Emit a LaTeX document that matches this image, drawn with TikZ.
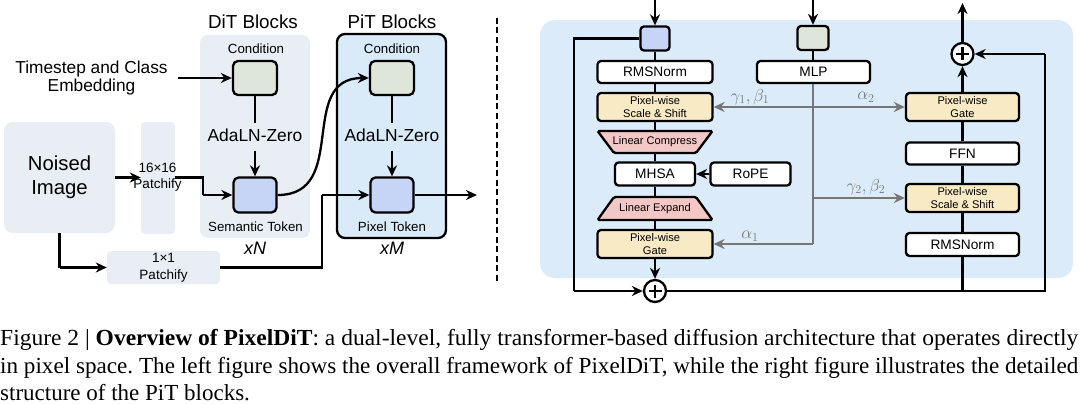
\documentclass[tikz,border=0pt]{standalone}
\usepackage{graphicx}
\usepackage{fontspec}
\setsansfont{Liberation Sans}
\newfontfamily\capfont{Liberation Serif}
\usetikzlibrary{arrows.meta,shapes.geometric}
\definecolor{bgL}{HTML}{E9EEF4}
\definecolor{pitbg}{HTML}{D9EAF8}
\definecolor{panelbg}{HTML}{DCEBF9}
\definecolor{condg}{HTML}{DEE6DA}
\definecolor{tokb}{HTML}{C6D5F5}
\definecolor{ylw}{HTML}{F8EAC4}
\definecolor{pnk}{HTML}{F3C7C5}
\definecolor{gln}{HTML}{767676}
\newcommand\fsz[2]{\fontsize{#1}{#2}\selectfont}
\frenchspacing
\begin{document}
\begin{tikzpicture}[x=1pt,y=-1pt,
  every node/.style={font=\sffamily, inner sep=0pt},
  conn/.style={line width=2.3pt},
  arr/.style={line width=2.3pt,-{Stealth[length=11pt,width=10pt]}},
  garr/.style={line width=2.3pt,draw=gln,-{Stealth[length=11pt,width=10pt]}},
  gln/.style={line width=2.3pt,draw=gln},
  sq/.style={draw,line width=2.3pt,rounded corners=5pt},
  blk/.style={draw,line width=2.3pt,rounded corners=3.5pt,fill=white,font=\sffamily\fsz{13.7}{16}},
  ylwbox/.style={draw,line width=2.3pt,rounded corners=3.5pt,fill=ylw,align=center,font=\sffamily\fsz{11.1}{13}},
  trapshape/.style={fill=pnk,draw,line width=2.3pt,rounded corners=1.5pt},
  traptext/.style={font=\sffamily\fsz{11.1}{13}},
  lbl/.style={font=\sffamily\fsz{13.3}{15}},
  gk/.style={text=gln,font=\fsz{17}{19}}
]
\useasboundingbox (0,0) rectangle (1080,404);

% ---------------- left part ----------------
\node[fill=bgL,rounded corners=8pt,minimum width=110pt,minimum height=203pt] (ditbg) at (255,136.5) {};
\node[draw,line width=2.3pt,fill=pitbg,rounded corners=8pt,minimum width=109pt,minimum height=204pt] (pitbg) at (391.5,136) {};
\node[font=\sffamily\fsz{18.8}{22}] (dittitle) at (253,22) {DiT Blocks};
\node[font=\sffamily\fsz{18.8}{22}] (pittitle) at (392,22) {PiT Blocks};

\node[fill=bgL,rounded corners=9pt,minimum width=111pt,minimum height=111pt,align=center,font=\sffamily\fsz{20.3}{24}] (noised) at (59.5,177.5) {Noised\\Image};
\node[fill=bgL,rounded corners=4pt,minimum width=34pt,minimum height=112pt] (p16) at (158,178) {};
\node[align=center,font=\sffamily\fsz{13.5}{16}] (p16t) at (157.5,177.5) {16\texttimes16\\Patchify};
\node[fill=bgL,rounded corners=4pt,minimum width=113pt,minimum height=33pt,align=center,font=\sffamily\fsz{13.5}{17}] (p1) at (163.5,267.5) {1\texttimes1\\Patchify};

\node[align=center,font=\sffamily\fsz{17.3}{18.5},inner xsep=10pt] (ts) at (91.5,78) {Timestep and Class\\Embedding};

\node[lbl] (cond1t) at (256,49) {Condition};
\node[sq,fill=condg,minimum width=44pt,minimum height=34pt] (cond1) at (255,78) {};
\node[font=\sffamily\fsz{17.4}{20},text height=12pt,text depth=4pt,inner ysep=5.5pt] (ada1) at (255,137) {AdaLN-Zero};
\node[sq,fill=tokb,minimum width=43pt,minimum height=35pt] (tok1) at (255,195) {};
\node[lbl] (tok1t) at (255.5,226.5) {Semantic Token};
\node[font=\sffamily\itshape\fsz{18}{20}] (xn) at (255,248) {xN};

\node[lbl] (cond2t) at (392,49) {Condition};
\node[sq,fill=condg,minimum width=44pt,minimum height=34pt] (cond2) at (392,78) {};
\node[font=\sffamily\fsz{17.4}{20},text height=12pt,text depth=4pt,inner ysep=5.5pt] (ada2) at (392,137) {AdaLN-Zero};
\node[sq,fill=tokb,minimum width=43pt,minimum height=35pt] (tok2) at (392,195) {};
\node[lbl] (tok2t) at (392,226.5) {Pixel Token};
\node[font=\sffamily\itshape\fsz{18}{20}] (xm) at (392,248) {xM};

\coordinate (out1) at (477,195);

\draw[arr] (ts.east) -- (ts.east -| cond1.west);
\draw[conn] (cond1.south) -- (ada1.north);
\draw[arr] (ada1.south) -- (tok1.north);
\draw[conn] (cond2.south) -- (ada2.north);
\draw[arr] (ada2.south) -- (tok2.north);
\draw[arr] (noised.east) -- (noised.east -| p16.west);
\draw[conn] (p16.east |- noised.east) -- (203,177.5) -- (203,195);
\draw[arr] (203,195) -- (tok1.west);
\draw[conn] (noised.south) -- (59.5,267.5);
\draw[arr] (59.5,267.5) -- (p1.west);
\draw[conn] (p1.east) -- (322,267.5) -- (322,195);
\draw[arr] (322,195) -- (tok2.west);
\draw[arr] (tok1.east) to[out=0,in=180,looseness=1.25] (cond2.west);
\draw[arr] (tok2.east) -- (out1);

% dashed separator
\draw[line width=2.3pt,dash pattern=on 6pt off 3.5pt] (497,18) -- (497,281);

% ---------------- right part ----------------
\node[fill=panelbg,rounded corners=15pt,minimum width=533pt,minimum height=258pt] (panel) at (806.5,149) {};

\node[sq,fill=tokb,minimum width=29pt,minimum height=24pt,rounded corners=3.5pt] (tokr) at (655,38.5) {};
\node[blk,minimum width=115pt,minimum height=22pt] (rms1) at (655,72) {RMSNorm};
\node[ylwbox,minimum width=115pt,minimum height=28pt] (ss1) at (655,107) {Pixel-wise\\Scale \& Shift};
\path[trapshape] (597.5,131) -- (712.5,131) -- (696,153) -- (614,153) -- cycle;
\node[traptext,minimum width=115pt,minimum height=22pt] (lc) at (655,142) {Linear Compress};
\node[blk,minimum width=80pt,minimum height=23pt] (mhsa) at (655,174) {MHSA};
\node[blk,minimum width=80pt,minimum height=23pt] (rope) at (750.5,174) {RoPE};
\path[trapshape] (614,197) -- (696,197) -- (712.5,220) -- (597.5,220) -- cycle;
\node[traptext,minimum width=115pt,minimum height=23pt] (le) at (655,208.5) {Linear Expand};
\node[ylwbox,minimum width=115pt,minimum height=28pt] (gate1) at (655,244) {Pixel-wise\\Gate};
\node[circle,draw,line width=2.3pt,fill=white,minimum size=22pt] (plus1) at (655,291) {};
\draw[line width=2.3pt] ([yshift=-6.5pt]plus1.center) -- ([yshift=6.5pt]plus1.center) ([xshift=-6.5pt]plus1.center) -- ([xshift=6.5pt]plus1.center);

\node[sq,fill=condg,minimum width=31pt,minimum height=24pt,rounded corners=3.5pt] (mlps) at (813,38) {};
\node[blk,minimum width=113pt,minimum height=22pt] (mlp) at (813.5,72) {MLP};

\node[ylwbox,minimum width=113pt,minimum height=28pt] (gate2) at (962.5,107) {Pixel-wise\\Gate};
\node[blk,minimum width=113pt,minimum height=22pt] (ffn) at (962.5,153.5) {FFN};
\node[ylwbox,minimum width=113pt,minimum height=28pt] (ss2) at (962.5,198) {Pixel-wise\\Scale \& Shift};
\node[blk,minimum width=113pt,minimum height=23pt] (rms2) at (962.5,244.5) {RMSNorm};
\node[circle,draw,line width=2.3pt,fill=white,minimum size=22pt] (plus2) at (962.5,54) {};
\draw[line width=2.3pt] ([yshift=-6.5pt]plus2.center) -- ([yshift=6.5pt]plus2.center) ([xshift=-6.5pt]plus2.center) -- ([xshift=6.5pt]plus2.center);

\coordinate (in1) at (655,0);
\coordinate (in2) at (813,0);
\coordinate (out2) at (962.5,3);
\coordinate (g1) at (813,107);
\coordinate (g2) at (813,198);
\coordinate (g3) at (813,244);

% black connectors
\draw[arr] (in1) -- (tokr.north);
\draw[arr] (in2) -- (mlps.north);
\draw[conn] (tokr.south) -- (rms1.north);
\draw[conn] (rms1.south) -- (ss1.north);
\draw[conn] (ss1.south) -- (lc.north);
\draw[conn] (lc.south) -- (mhsa.north);
\draw[conn] (mhsa.south) -- (le.north);
\draw[conn] (le.south) -- (gate1.north);
\draw[arr] (gate1.south) -- (plus1.north);
\draw[arr] (rope.west) -- (mhsa.east);
\draw[conn] (tokr.west) -- (574,38.5) -- (574,291);
\draw[arr] (574,291) -- (plus1.west);
\draw[conn] (plus1.east) -- (1045,291) -- (1045,54);
\draw[arr] (1045,54) -- (plus2.east);
\draw[conn] (rms2.south) -- (rms2.south |- plus1.east);
\draw[conn] (rms2.north) -- (ss2.south);
\draw[conn] (ss2.north) -- (ffn.south);
\draw[conn] (ffn.north) -- (gate2.south);
\draw[arr] (gate2.north) -- (plus2.south);
\draw[arr] (plus2.north) -- (out2);
\draw[conn] (mlps.south) -- (mlps.south |- mlp.north);

% gray modulation connectors
\draw[gln] (mlp.south -| g1) -- (g3);
\draw[garr] (g3) -- (gate1.east);
\draw[garr] (g1) -- (ss1.east);
\draw[garr] (g1) -- (gate2.west);
\draw[garr] (g2) -- (ss2.west);
\node[gk] (lg1) at (750,97) {$\gamma_1,\beta_1$};
\node[gk] (la2) at (866,97) {$\alpha_2$};
\node[gk] (lg2) at (866,187) {$\gamma_2,\beta_2$};
\node[gk] (la1) at (750,236) {$\alpha_1$};

% ---------------- caption ----------------
\node[anchor=base west] (cap1) at (0,345) {\resizebox{1078pt}{\height}{\capfont\fsz{23}{28}Figure 2 \textbar{} \textbf{Overview of PixelDiT}: a dual-level, fully transformer-based diffusion architecture that operates directly}};
\node[anchor=base west] (cap2) at (0,373) {\resizebox{1078pt}{\height}{\capfont\fsz{23}{28}in pixel space. The left figure shows the overall framework of PixelDiT, while the right figure illustrates the detailed}};
\node[anchor=base west,font=\capfont\fsz{23}{28}] (cap3) at (0,400) {structure of the PiT blocks.};
\end{tikzpicture}
\end{document}
